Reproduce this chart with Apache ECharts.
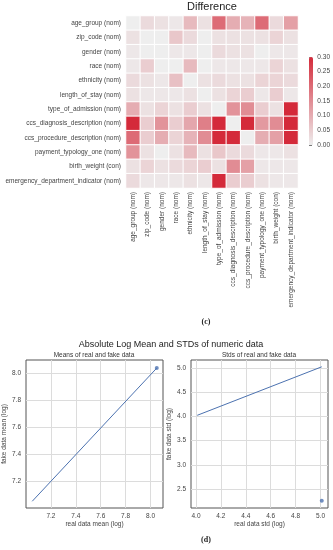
<!DOCTYPE html>
<html><head><meta charset="utf-8">
<script src="https://cdn.jsdelivr.net/npm/echarts@6/dist/echarts.min.js"></script>
<style>html,body{margin:0;padding:0;background:#fff}#c{width:333px;height:550px}</style>
</head><body><div id="c"></div>
<script>
const categories = ["age_group (nom)","zip_code (nom)","gender (nom)","race (nom)","ethnicity (nom)","length_of_stay (nom)","type_of_admission (nom)","ccs_diagnosis_description (nom)","ccs_procedure_description (nom)","payment_typology_one (nom)","birth_weight (con)","emergency_department_indicator (nom)"];
const diffMatrix = [
  [0.00,0.03,0.02,0.01,0.08,0.02,0.20,0.10,0.09,0.20,0.03,0.12],
  [0.02,0.00,0.00,0.06,0.03,0.00,0.02,0.02,0.02,0.02,0.04,0.02],
  [0.01,0.00,0.00,0.01,0.01,0.00,0.03,0.02,0.02,0.00,0.01,0.01],
  [0.01,0.05,0.00,0.00,0.08,0.00,0.01,0.01,0.01,0.01,0.04,0.02],
  [0.03,0.02,0.01,0.07,0.00,0.02,0.03,0.02,0.02,0.04,0.04,0.03],
  [0.02,0.01,0.01,0.01,0.02,0.00,0.02,0.04,0.05,0.01,0.05,0.01],
  [0.10,0.02,0.04,0.02,0.05,0.02,0.00,0.14,0.15,0.05,0.02,0.30],
  [0.30,0.05,0.14,0.05,0.11,0.17,0.30,0.00,0.30,0.13,0.15,0.30],
  [0.20,0.05,0.10,0.04,0.09,0.15,0.30,0.30,0.00,0.10,0.12,0.30],
  [0.14,0.02,0.00,0.02,0.08,0.02,0.06,0.03,0.03,0.01,0.01,0.02],
  [0.02,0.04,0.02,0.03,0.04,0.05,0.02,0.15,0.12,0.01,0.01,0.01],
  [0.03,0.01,0.01,0.01,0.02,0.01,0.30,0.05,0.05,0.02,0.01,0.01]
];
const colorbarTicks = [0,0.05,0.10,0.15,0.20,0.25,0.30];
// Means plot
const meanLineX = [7.05, 8.05];
const meanLineY = [7.05, 8.04];
const meanPointX = [8.05];
const meanPointY = [8.04];
const meanTicksX = [7.2,7.4,7.6,7.8,8.0];
const meanTicksY = [7.2,7.4,7.6,7.8,8.0];
// Stds plot
const stdLineX = [4.01, 5.01];
const stdLineY = [4.02, 5.02];
const stdPointX = [5.01];
const stdPointY = [2.26];
const stdTicksX = [4.0,4.2,4.4,4.6,4.8,5.0];
const stdTicksY = [2.5,3.0,3.5,4.0,4.5,5.0];

const heatData = [];
diffMatrix.forEach((row, r) => row.forEach((v, c) => heatData.push([c, r, v])));
const pairs = (xs, ys) => xs.map((x, i) => [x, ys[i]]);

const FONT = 'Liberation Sans';
const lbl = {fontSize: 6.5, color: '#444', fontFamily: FONT};
const plotAxis = (gi, ticks, min, max, name, isY) => ({
  type: 'value', gridIndex: gi, min: min, max: max,
  name: name, nameLocation: 'middle', nameGap: isY ? 16 : 12,
  nameTextStyle: {fontSize: 6.5, color: '#444', fontFamily: FONT},
  axisLine: {show: false}, axisTick: {show: false, customValues: ticks},
  axisLabel: Object.assign({customValues: ticks, margin: 5, formatter: v => v.toFixed(1)}, lbl),
  splitLine: {show: true, lineStyle: {color: '#dcdcdc', width: 1}}
});
const ttl = (text, left, top, size, opts) => Object.assign({
  text: text, left: left, top: top, textAlign: 'center', padding: 0,
  textStyle: {fontSize: size, fontWeight: 'normal', color: '#222', fontFamily: FONT}
}, opts || {});

const chart = echarts.init(document.getElementById('c'), null, {renderer: 'canvas'});
chart.setOption({
  animation: false,
  backgroundColor: '#fff',
  textStyle: {fontFamily: FONT},
  title: [
    ttl('Difference', 212, 1, 11),
    ttl('(c)', 206, 318, 8, {textStyle: {fontSize: 8, fontWeight: 'bold', color: '#222', fontFamily: 'Liberation Serif'}}),
    ttl('Absolute Log Mean and STDs of numeric data', 171, 340, 9),
    ttl('Means of real and fake data', 94, 351.5, 6.5, {textStyle: {fontSize: 6.5, fontWeight: 'normal', color: '#333', fontFamily: FONT}}),
    ttl('Stds of real and fake data', 259, 351.5, 6.5, {textStyle: {fontSize: 6.5, fontWeight: 'normal', color: '#333', fontFamily: FONT}}),
    ttl('(d)', 206, 536, 8, {textStyle: {fontSize: 8, fontWeight: 'bold', color: '#222', fontFamily: 'Liberation Serif'}})
  ],
  grid: [
    {left: 126, top: 16, width: 172, height: 172},
    {left: 309, top: 57, width: 4, height: 88},
    {left: 26, top: 360, width: 137, height: 148, show: true, borderColor: '#555', borderWidth: 1, backgroundColor: '#fff'},
    {left: 191, top: 360, width: 137, height: 148, show: true, borderColor: '#555', borderWidth: 1, backgroundColor: '#fff'}
  ],
  xAxis: [
    {type: 'category', gridIndex: 0, data: categories, position: 'bottom',
     axisLine: {show: false}, axisTick: {show: false}, splitLine: {show: false},
     axisLabel: Object.assign({rotate: 90, margin: 4, interval: 0}, lbl)},
    {type: 'value', gridIndex: 1, show: false, min: 0, max: 1},
    plotAxis(2, meanTicksX, 7.0, 8.1, 'real data mean (log)', false),
    plotAxis(3, stdTicksX, 3.96, 5.06, 'real data std (log)', false)
  ],
  yAxis: [
    {type: 'category', gridIndex: 0, data: categories, inverse: true,
     axisLine: {show: false}, axisTick: {show: false}, splitLine: {show: false},
     axisLabel: Object.assign({margin: 5, interval: 0}, lbl)},
    {type: 'value', gridIndex: 1, position: 'right', min: 0, max: 0.3,
     axisLine: {show: false}, splitLine: {show: false},
     axisTick: {show: true, length: 3, customValues: colorbarTicks, lineStyle: {color: '#555', width: 0.8}},
     axisLabel: Object.assign({customValues: colorbarTicks, margin: 5, formatter: v => v.toFixed(2)}, lbl)},
    plotAxis(2, meanTicksY, 7.0, 8.1, 'fake data mean (log)', true),
    plotAxis(3, stdTicksY, 2.11, 5.16, 'fake data std (log)', true)
  ],
  visualMap: {
    type: 'continuous', seriesIndex: 0, dimension: 2, min: 0, max: 0.3,
    calculable: false, showLabel: false, text: null,
    left: 309, top: 57, itemWidth: 4, itemHeight: 88, padding: 0,
    inRange: {color: ['#eeeeee', '#d42a3a']}
  },
  series: [
    {type: 'heatmap', xAxisIndex: 0, yAxisIndex: 0, data: heatData,
     itemStyle: {borderColor: '#fff', borderWidth: 1}},
    {type: 'line', xAxisIndex: 2, yAxisIndex: 2, data: pairs(meanLineX, meanLineY), showSymbol: false,
     lineStyle: {color: '#4c72b0', width: 1}},
    {type: 'scatter', xAxisIndex: 2, yAxisIndex: 2, data: pairs(meanPointX, meanPointY), symbolSize: 4,
     itemStyle: {color: '#4c72b0'}},
    {type: 'line', xAxisIndex: 3, yAxisIndex: 3, data: pairs(stdLineX, stdLineY), showSymbol: false,
     lineStyle: {color: '#4c72b0', width: 1}},
    {type: 'scatter', xAxisIndex: 3, yAxisIndex: 3, data: pairs(stdPointX, stdPointY), symbolSize: 4,
     itemStyle: {color: '#4c72b0'}}
  ]
});
</script>
</body></html>
